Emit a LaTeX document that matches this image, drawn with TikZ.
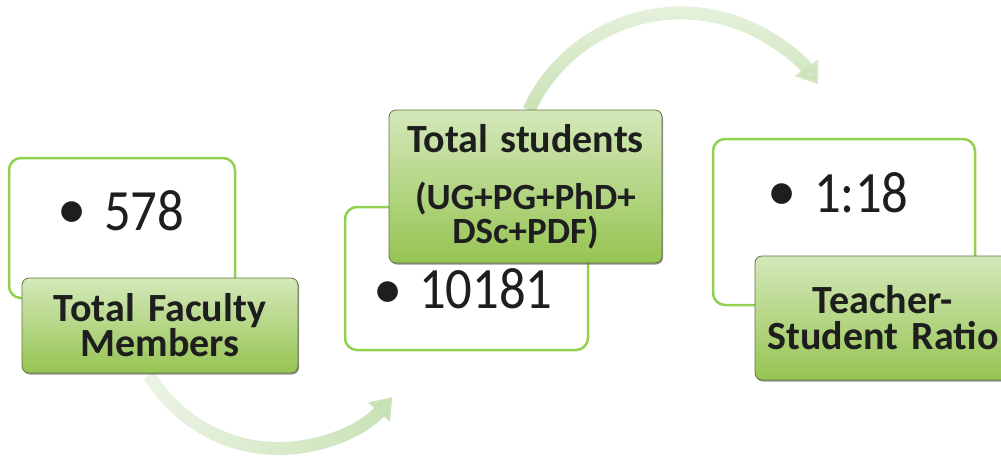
\documentclass[tikz,border=0pt]{standalone}
\usepackage{fontspec}
\setmainfont{Carlito}
\newfontfamily\numfont[FakeStretch=0.9]{Carlito}
\usetikzlibrary{shadows,fadings,arrows.meta}
\definecolor{boxgreen}{RGB}{146,208,80}
\definecolor{lbltop}{RGB}{212,232,186}
\definecolor{lblbot}{RGB}{150,196,82}
\definecolor{lblborder}{RGB}{96,118,60}
\definecolor{arrowgreen}{RGB}{200,225,180}
\definecolor{txt}{RGB}{30,30,30}
\tikzfading[name=fadeLR, left color=transparent!65, right color=transparent!0]
\tikzfading[name=fadeTB, top color=transparent!65, bottom color=transparent!0]
\lineskiplimit=-100pt
\begin{document}
\begin{tikzpicture}[x=1pt,y=-1pt,
  valbox/.style={draw=boxgreen, line width=2.5pt, rounded corners=12pt, fill=white, inner sep=0pt},
  lblbox/.style={draw=lblborder, line width=0.8pt, rounded corners=7pt, top color=lbltop, bottom color=lblbot,
    drop shadow={shadow xshift=1pt, shadow yshift=-1.5pt, opacity=0.6, fill=black!70},
    align=center, text=txt, inner sep=0pt},
  lblfont/.style={font=\bfseries\fontsize{40}{35}\selectfont},
  numtext/.style={font=\numfont\fontsize{58.5}{60}\selectfont, text=txt, anchor=base west, inner sep=0pt},
  bullettext/.style={font=\fontsize{58.5}{60}\selectfont, text=txt, anchor=center, inner sep=0pt},
  flowarrow/.style={draw=arrowgreen, line width=13pt, -{Triangle[length=20pt,width=28pt]}}]
\useasboundingbox (0,0) rectangle (1001,456);
\clip (0,0) rectangle (1001,456);

% connectors (behind)
\coordinate (a1s) at (149.4,375.3);
\coordinate (a2s) at (529,110);
\draw[flowarrow, path fading=fadeLR] (a1s) arc[start angle=149, end angle=41.3, radius=151];
\draw[flowarrow, path fading=fadeTB] (a2s) arc[start angle=204.9, end angle=324.8, radius=167.6];

% value boxes
\node[valbox, minimum width=226pt, minimum height=140pt] (v1) at (122,228) {};
\node[valbox, minimum width=243pt, minimum height=143pt] (v2) at (466.5,278.5) {};
\node[valbox, minimum width=262pt, minimum height=166pt] (v3) at (844,222) {};

\node[bullettext] (b1) at (72,215) {•};
\node[numtext] (n1) at (104,230) {578};
\node[bullettext] (b2) at (388,295) {•};
\node[numtext] (n2) at (419,308) {10181};
\node[bullettext] (b3) at (782,197) {•};
\node[numtext] (n3) at (814,212) {1:18};

% labels
\node[lblbox, lblfont, text width=276pt, minimum width=276pt, minimum height=95pt] (l1) at (160,325.5) {Total Faculty\\Members};
\node[lblbox, text width=273pt, minimum width=273pt, minimum height=153pt,
  font=\bfseries\fontsize{37}{28}\selectfont] (l2) at (525.5,186.5)
  {{\fontsize{40}{28}\selectfont Total students}\\[29pt](UG+PG+PhD+\\DSc+PDF)};
\node[lblbox, font=\bfseries\fontsize{40}{36}\selectfont, text width=256pt, minimum width=256pt, minimum height=124pt] (l3) at (883,318) {Teacher-\\Student Ratio};
\end{tikzpicture}
\end{document}
